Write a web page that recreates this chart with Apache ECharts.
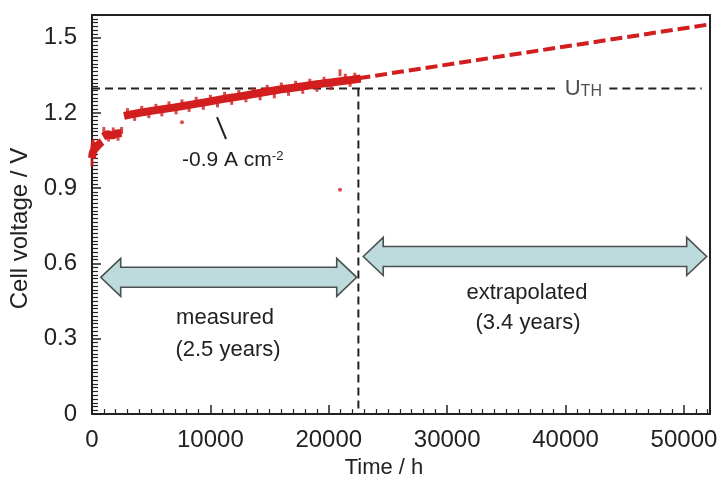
<!DOCTYPE html>
<html>
<head>
<meta charset="utf-8">
<script src="https://cdn.jsdelivr.net/npm/echarts@6/dist/echarts.min.js"></script>
<style>
  * { margin: 0; padding: 0; }
  body { background: #fff; }
  #chart { width: 724px; height: 484px; }
</style>
</head>
<body>
<div id="chart"></div>
<script>
// measured cell voltage (band centre), null = gap between clusters
const measTime = [0, 60, 150, 300, 500, 700, 850, 900, 950, 1300, 1700, 2100, 2500, 2620,
  2700, 3200, 4000, 5000, 6000, 7000, 8000, 9000, 10000, 11000, 12000, 13000, 14000,
  15000, 16000, 17000, 18000, 19000, 20000, 21000, 22000, 22700];
const measVolt = [1.02, 1.04, 1.05, 1.06, 1.07, 1.08, 1.085, null, 1.105, 1.115, 1.11, 1.118, 1.12, null,
  1.188, 1.193, 1.200, 1.208, 1.215, 1.222, 1.230, 1.238, 1.246, 1.255, 1.262, 1.270, 1.278,
  1.286, 1.294, 1.300, 1.307, 1.314, 1.320, 1.326, 1.332, 1.337];

// scatter / noise spikes around the band
const noiseTime = [0, 0, 0, 30, 100, 200, 1000, 1400, 1800, 2200, 2500,
  3000, 3600, 4200, 4800, 5400, 5900, 6500, 7100, 7600, 8200, 8800, 9400, 10000, 10600,
  11200, 11800, 12400, 13000, 13600, 14200, 14800, 15400, 16000, 16600, 17200, 17800,
  18400, 19000, 19600, 20200, 20950, 21400, 21800, 22200];
const noiseVolt = [1.00, 1.03, 1.06, 1.075, 1.083, 1.07, 1.13, 1.10, 1.128, 1.103, 1.13,
  1.205, 1.182, 1.214, 1.193, 1.222, 1.200, 1.232, 1.208, 1.240, 1.218, 1.250, 1.226, 1.258, 1.236,
  1.270, 1.246, 1.277, 1.256, 1.287, 1.264, 1.298, 1.272, 1.307, 1.282, 1.314, 1.290,
  1.322, 1.298, 1.330, 1.305, 1.360, 1.342, 1.318, 1.346];

// stray single readings
const strayTime = [7600, 20950];
const strayVolt = [1.163, 0.894];

// extrapolation
const extraTime = [22500, 52200];
const extraVolt = [1.338, 1.553];

// thermoneutral voltage line and end of measurement
const uth = 1.297;
const uthLeft = [0, 39300];
const uthRight = [43700, 51500];
const uthLabelTime = 41500;
const endMeasured = 22500;

// double arrows: [start, end, voltage]
const arrowStart = [735, 22910];
const arrowEnd = [22360, 51920];
const arrowVolt = [0.545, 0.628];

// leader line of the current density note
const leaderTime = [10560, 11320];
const leaderVolt = [1.183, 1.096];

const xTicks = [0, 10000, 20000, 30000, 40000, 50000];
const yTicks = [0, 0.3, 0.6, 0.9, 1.2, 1.5];

const RED = '#d21e1e';
const INK = '#222';

function pairs(xs, ys) {
  return xs.map((x, i) => [x, ys[i] === null ? '-' : ys[i]]);
}

var chart = echarts.init(document.getElementById('chart'));

const option = {
  animation: false,
  grid: { left: 92, right: 14, top: 15, bottom: 67, show: true, borderColor: INK, borderWidth: 2 },
  xAxis: {
    type: 'value', min: 0, max: 52200, interval: 10000,
    name: 'Time / h', nameLocation: 'middle', nameGap: 38,
    nameTextStyle: { fontFamily: 'Liberation Sans', fontSize: 22, color: INK, padding: [0, 34, 0, 0] },
    axisLine: { lineStyle: { color: INK, width: 2 } },
    axisTick: { inside: true, length: 9, lineStyle: { color: INK, width: 1.5 } },
    minorTick: { show: true, splitNumber: 10, length: 5, lineStyle: { color: INK, width: 1.2 } },
    splitLine: { show: false },
    axisLabel: {
      margin: 14, fontFamily: 'Liberation Sans', fontSize: 24, color: INK,
      formatter: v => (xTicks.indexOf(v) >= 0 ? String(v) : '')
    }
  },
  yAxis: {
    type: 'value', min: 0, max: 1.59, interval: 0.3,
    name: 'Cell voltage / V', nameLocation: 'middle', nameGap: 56,
    nameTextStyle: { fontFamily: 'Liberation Sans', fontSize: 24, color: INK, padding: [0, 28, 0, 0] },
    axisLine: { lineStyle: { color: INK, width: 2 } },
    axisTick: { inside: true, length: 9, lineStyle: { color: INK, width: 1.5 } },
    minorTick: { show: true, splitNumber: 20, length: 6, lineStyle: { color: INK, width: 1.2 } },
    splitLine: { show: false },
    axisLabel: {
      margin: 15, fontFamily: 'Liberation Sans', fontSize: 24, color: INK,
      formatter: v => {
        const t = yTicks.find(k => Math.abs(k - v) < 1e-6);
        return t === undefined ? '' : (t === 0 ? '0' : t.toFixed(1));
      }
    }
  },
  series: [
    {
      name: 'UTH', type: 'line', symbol: 'none', z: 2,
      data: [[uthLeft[0], uth], [uthLeft[1], uth], ['-', '-'], [uthRight[0], uth], [uthRight[1], uth]],
      lineStyle: { color: INK, width: 2, type: [8, 5] }
    },
    {
      name: 'end', type: 'line', symbol: 'none', z: 2,
      data: [[endMeasured, uth], [endMeasured, 0]],
      lineStyle: { color: INK, width: 2, type: [8, 5] }
    },
    {
      name: 'arrows', type: 'custom', z: 3,
      encode: { x: [0, 1], y: 2 },
      data: arrowStart.map((s, i) => [s, arrowEnd[i], arrowVolt[i]]),
      renderItem: function (params, api) {
        var p1 = api.coord([api.value(0), api.value(2)]);
        var p2 = api.coord([api.value(1), api.value(2)]);
        var x1 = p1[0], x2 = p2[0], y = p1[1];
        var hl = 20, hh = 19, sh = 10;
        return {
          type: 'polygon',
          shape: { points: [[x1, y], [x1 + hl, y - hh], [x1 + hl, y - sh], [x2 - hl, y - sh], [x2 - hl, y - hh],
            [x2, y], [x2 - hl, y + hh], [x2 - hl, y + sh], [x1 + hl, y + sh], [x1 + hl, y + hh]] },
          style: { fill: '#bddbdc', stroke: '#4a5050', lineWidth: 1.6 }
        };
      }
    },
    {
      name: 'measured', type: 'line', symbol: 'none', z: 4, connectNulls: false,
      data: pairs(measTime, measVolt),
      lineStyle: { color: RED, width: 8 }
    },
    {
      name: 'noise', type: 'scatter', symbol: 'rect', symbolSize: [3, 7], z: 4,
      data: pairs(noiseTime, noiseVolt),
      itemStyle: { color: RED }
    },
    {
      name: 'stray', type: 'scatter', symbol: 'circle', symbolSize: 4, z: 4,
      data: pairs(strayTime, strayVolt),
      itemStyle: { color: RED }
    },
    {
      name: 'extrapolated', type: 'line', symbol: 'none', z: 4,
      data: pairs(extraTime, extraVolt),
      lineStyle: { color: RED, width: 4, type: [12, 5] }
    },
    {
      name: 'leader', type: 'line', symbol: 'none', z: 5,
      data: pairs(leaderTime, leaderVolt),
      lineStyle: { color: INK, width: 2 }
    },
    {
      name: 'uthLabel', type: 'scatter', symbolSize: 0, z: 5,
      data: [[uthLabelTime, uth]],
      label: {
        show: true, position: 'inside', formatter: '{u|U}{s|TH}',
        rich: {
          u: { fontFamily: 'Liberation Sans', fontSize: 22, color: INK, verticalAlign: 'bottom' },
          s: { fontFamily: 'Liberation Sans', fontSize: 16, color: INK, verticalAlign: 'bottom' }
        }
      }
    }
  ],
  graphic: [
    { type: 'text', left: 182, top: 150, style: {
      text: '{a|-0.9 A cm}{b|-2}',
      rich: {
        a: { fontFamily: 'Liberation Sans', fontSize: 21, fill: INK, verticalAlign: 'top', lineHeight: 24 },
        b: { fontFamily: 'Liberation Sans', fontSize: 13, fill: INK, verticalAlign: 'top', lineHeight: 24 }
      } } },
    { type: 'text', x: 225, y: 318, style: { text: 'measured', font: '22px "Liberation Sans"', fill: INK, align: 'center', verticalAlign: 'middle' } },
    { type: 'text', x: 228, y: 350, style: { text: '(2.5 years)', font: '22px "Liberation Sans"', fill: INK, align: 'center', verticalAlign: 'middle' } },
    { type: 'text', x: 527, y: 293, style: { text: 'extrapolated', font: '22px "Liberation Sans"', fill: INK, align: 'center', verticalAlign: 'middle' } },
    { type: 'text', x: 528, y: 323, style: { text: '(3.4 years)', font: '22px "Liberation Sans"', fill: INK, align: 'center', verticalAlign: 'middle' } }
  ]
};

chart.setOption(option);
</script>
</body>
</html>
